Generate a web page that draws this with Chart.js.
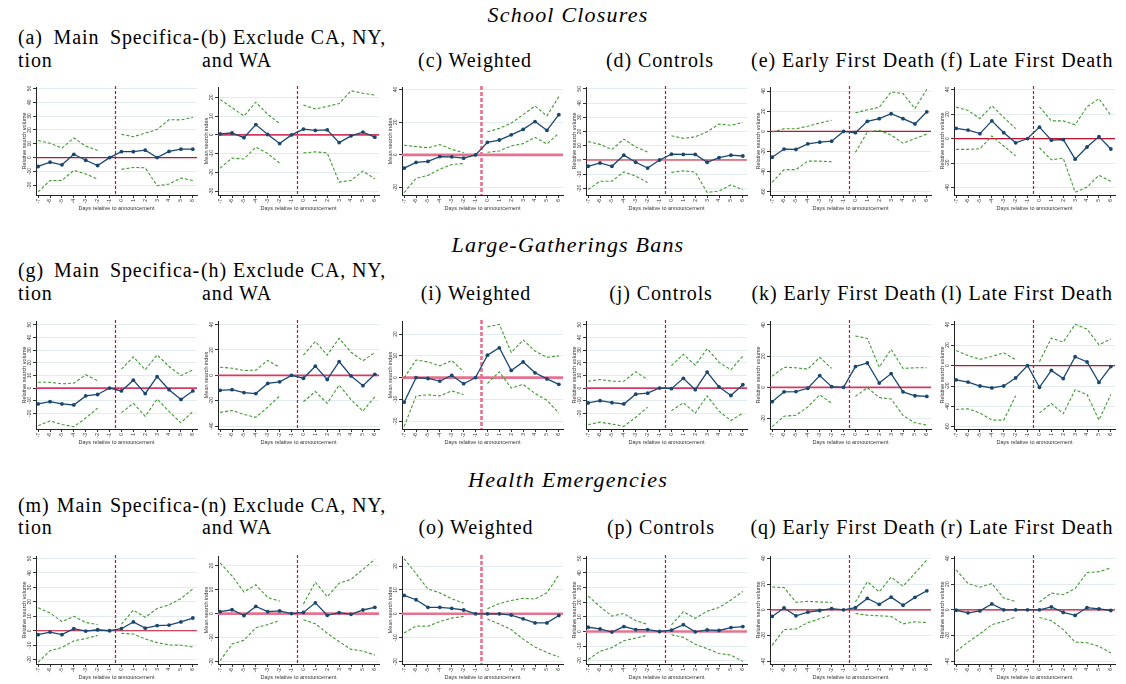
<!DOCTYPE html>
<html>
<head>
<meta charset="utf-8">
<script src="https://cdn.jsdelivr.net/npm/chart.js@4.4.0/dist/chart.umd.min.js"></script>
<style>
  body { margin: 0; background: #fff; width: 1126px; height: 684px; position: relative; overflow: hidden; font-family: "Liberation Serif", "DejaVu Serif", serif; }
  .t { position: absolute; white-space: nowrap; font-size: 20px; letter-spacing: 0.9px; line-height: 22px; color: #000; }
  .sec { font-style: italic; font-size: 22px; letter-spacing: 1.2px; }
  .c { transform: translateX(-50%); }
  .j { text-align: justify; text-align-last: justify; white-space: normal; }
  canvas { position: absolute; }
</style>
</head>
<body>
<!-- section titles and sub-captions -->
<div class="t sec c" style="left:568px;top:4px">School Closures</div>
<div class="t j" style="left:18px;top:26px;width:182px">(a) Main Specifica-</div>
<div class="t" style="left:201px;top:26px">(b) Exclude CA, NY,</div>
<div class="t" style="left:18px;top:49px">tion</div>
<div class="t" style="left:202px;top:49px">and WA</div>
<div class="t c" style="left:475px;top:49px">(c) Weighted</div>
<div class="t c" style="left:660px;top:49px">(d) Controls</div>
<div class="t c" style="left:843px;top:49px">(e) Early First Death</div>
<div class="t c" style="left:1027px;top:49px">(f) Late First Death</div>

<div class="t sec c" style="left:568px;top:234px">Large-Gatherings Bans</div>
<div class="t j" style="left:18px;top:259px;width:182px">(g) Main Specifica-</div>
<div class="t" style="left:201px;top:259px">(h) Exclude CA, NY,</div>
<div class="t" style="left:18px;top:282px">tion</div>
<div class="t" style="left:202px;top:282px">and WA</div>
<div class="t c" style="left:476px;top:282px">(i) Weighted</div>
<div class="t c" style="left:661px;top:282px">(j) Controls</div>
<div class="t c" style="left:844px;top:282px">(k) Early First Death</div>
<div class="t c" style="left:1027px;top:282px">(l) Late First Death</div>

<div class="t sec c" style="left:568px;top:469px">Health Emergencies</div>
<div class="t j" style="left:18px;top:494px;width:182px">(m) Main Specifica-</div>
<div class="t" style="left:201px;top:494px">(n) Exclude CA, NY,</div>
<div class="t" style="left:18px;top:516px">tion</div>
<div class="t" style="left:202px;top:516px">and WA</div>
<div class="t c" style="left:476px;top:516px">(o) Weighted</div>
<div class="t c" style="left:661px;top:516px">(p) Controls</div>
<div class="t c" style="left:843px;top:516px">(q) Early First Death</div>
<div class="t c" style="left:1027px;top:516px">(r) Late First Death</div>

<script>
// days relative to announcement (x axis)
const DAYS = [-7, -6, -5, -4, -3, -2, -1, 0, 1, 2, 3, 4, 5, 6];

const RSV = 'Relative search volume';
const MSI = 'Mean search index';

// ---- School closures ----
const aCoef = [-6.4, -3.3, -5.2, 2.4, -1.9, -5.7, 0, 4.3, 4.3, 5.4, 0, 4.5, 6.1, 6.1];
const aHi = [12.3, 10.4, 6.9, 14.2, 8.3, 5.2, null, 16.8, 15.1, 17.7, 20.3, 27.4, 27.2, 29.1];
const aLo = [-24.8, -16.5, -16.5, -9.2, -11.8, -15.6, null, -8.5, -7.1, -7.3, -20.3, -19.1, -14.7, -16.5];

const bCoef = [0.5, 1.0, -1.5, 5.5, 0.2, -4.6, 0, 3.1, 2.4, 2.7, -4.1, -0.5, 1.5, -1.2];
const bHi = [18.8, 14.5, 10.1, 17.4, 10.9, 6.1, null, 15.9, 13.8, 15.2, 16.7, 23.5, 22.2, 21.2];
const bLo = [-17.7, -12.3, -12.8, -6.5, -9.9, -15.0, null, -9.6, -9.0, -9.6, -25.1, -24.2, -19.3, -23.4];

const cCoef = [-8.1, -4.6, -4.0, -1.0, -1.2, -2.0, 0, 7.7, 9.1, 12.3, 15.6, 20.4, 15.0, 24.6];
const cHi = [5.9, 5.1, 4.4, 6.3, 3.4, 1.4, null, 14.1, 16.2, 19.4, 24.6, 29.9, 23.8, 35.6];
const cLo = [-23.0, -14.3, -12.5, -8.7, -5.9, -5.3, null, 1.6, 2.4, 5.5, 6.9, 10.7, 6.7, 13.3];

const dCoef = [-4.4, -2.1, -4.4, 3.4, -1.6, -5.7, 0, 4.1, 3.9, 3.9, -1.6, 1.6, 3.4, 2.8];
const dHi = [12.9, 11.0, 7.4, 14.7, 9.2, 5.5, null, 17.0, 15.2, 16.3, 19.8, 25.3, 24.4, 26.4];
const dLo = [-20.7, -14.9, -14.9, -8.3, -11.3, -15.9, null, -8.7, -7.6, -8.5, -22.8, -21.8, -17.5, -20.9];

const eCoef = [-25.6, -17.5, -17.8, -12.3, -10.7, -9.7, 0, -1.3, 10.0, 12.6, 17.5, 12.6, 7.4, 19.4];
const eHi = [-0.6, 2.6, 2.6, 5.2, 8.4, 11.0, null, 18.4, 21.4, 23.9, 39.2, 37.5, 22.7, 41.7];
const eLo = [-50.5, -37.9, -37.9, -29.4, -29.4, -30.1, null, -20.7, -0.6, 1.0, -3.6, -11.7, -7.1, -2.6];

const fCoef = [8.3, 6.9, 4.0, 14.4, 4.8, -3.5, 0, 9.3, -1.3, -0.8, -16.8, -6.9, 1.6, -8.5];
const fHi = [25.6, 22.9, 16.3, 26.7, 17.3, 8.0, null, 25.9, 14.4, 14.4, 11.2, 25.9, 32.5, 18.9];
const fLo = [-8.8, -8.8, -8.3, 2.1, -6.1, -14.1, null, -7.5, -17.3, -16.0, -43.7, -39.5, -29.9, -34.9];

// ---- Large-gatherings bans ----
const gCoef = [-12.6, -10.8, -12.6, -13.4, -6.2, -5.1, 0, -2.3, 6.2, -4.4, 9.0, -1.3, -9.0, -2.3];
const gHi = [4.6, 4.6, 3.3, 3.9, 10.5, 5.7, null, 14.9, 24.7, 14.4, 26.2, 17.0, 9.8, 14.4];
const gLo = [-29.8, -26.0, -28.8, -30.6, -23.7, -15.9, null, -19.5, -12.1, -22.4, -8.7, -18.5, -27.5, -18.5];

const hCoef = [-11.8, -11.3, -13.6, -14.4, -6.4, -5.1, 0, -2.3, 7.2, -3.3, 10.8, -0.5, -8.2, 0.8];
const hHi = [6.4, 5.6, 3.8, 4.1, 11.8, 6.4, null, 15.9, 26.7, 15.9, 29.2, 18.2, 11.5, 17.9];
const hLo = [-29.2, -27.7, -30.8, -33.1, -25.1, -16.2, null, -20.8, -12.8, -22.1, -7.7, -19.2, -28.2, -16.9];

const iCoef = [-11.3, 0, -0.4, -1.6, 1.0, -2.8, 0, 10.3, 13.7, 3.3, 7.2, 2.2, -0.6, -3.1];
const iHi = [-0.1, 8.1, 7.2, 5.4, 7.9, 2.7, null, 23.3, 24.5, 11.5, 17.3, 12.2, 9.3, 10.0];
const iLo = [-22.5, -8.4, -7.9, -8.4, -6.1, -7.8, null, -2.7, 2.7, -4.8, -3.1, -7.3, -10.4, -16.3];

const jCoef = [-11.8, -10.0, -11.6, -12.6, -4.9, -4.1, 0, -0.5, 7.7, -1.3, 12.6, 0.8, -5.9, 2.6];
const jHi = [5.4, 6.7, 5.4, 5.4, 12.9, 6.7, null, 17.7, 26.7, 18.0, 31.1, 20.3, 14.4, 25.2];
const jLo = [-29.0, -27.0, -28.5, -30.3, -23.1, -15.2, null, -18.0, -11.6, -19.8, -6.2, -18.3, -25.7, -19.8];

const kCoef = [-9.2, -2.9, -2.7, -0.6, 7.5, 0.4, 0, 13.3, 15.6, 2.7, 8.8, -2.9, -5.4, -5.8];
const kHi = [7.1, 12.9, 12.5, 11.7, 19.2, 12.1, null, 32.9, 31.3, 12.9, 24.4, 12.1, 12.5, 12.5];
const kLo = [-25.2, -18.5, -17.9, -12.5, -4.8, -10.2, null, -5.8, -0.2, -6.5, -7.5, -18.1, -22.7, -24.2];

const lCoef = [-14.0, -16.2, -20.0, -21.9, -20.0, -12.1, 0, -21.3, -4.8, -12.7, 8.6, 3.5, -16.5, -1.0];
const lHi = [14.6, 9.8, 6.0, 8.9, 12.4, 5.7, null, 3.8, 26.7, 22.9, 40.3, 35.6, 20.3, 26.0];
const lLo = [-42.9, -42.2, -46.3, -53.3, -53.3, -29.5, null, -46.3, -37.1, -47.0, -23.8, -28.3, -53.3, -28.3];

// ---- Health emergencies ----
const mCoef = [-2.7, -0.9, -2.7, 1.4, -0.2, 0.7, 0, 1.4, 6.1, 1.8, 3.6, 3.9, 6.1, 8.8];
const mHi = [15.9, 12.3, 6.3, 10.0, 5.7, 4.3, null, 4.5, 14.3, 9.3, 15.4, 17.9, 22.2, 29.0];
const mLo = [-21.8, -13.8, -11.6, -7.0, -5.4, -3.2, null, -1.8, -2.3, -5.7, -8.2, -9.8, -10.0, -11.3];

const nCoef = [0.8, 1.6, -0.8, 3.0, 0.8, 1.1, 0, 0.5, 4.5, -0.7, 0.4, -0.3, 1.5, 2.6];
const nHi = [21.1, 15.7, 9.0, 12.0, 6.7, 5.2, null, 4.0, 13.1, 7.0, 12.7, 14.3, 18.4, 22.6];
const nLo = [-19.6, -12.7, -11.1, -5.9, -4.6, -2.9, null, -2.6, -4.2, -8.2, -11.7, -14.9, -15.6, -17.3];

const oCoef = [7.7, 5.9, 2.7, 2.7, 2.3, 1.6, 0, 0, 0, -0.5, -2.1, -3.8, -3.8, -0.7];
const oHi = [23.1, 16.8, 10.4, 8.8, 6.3, 4.5, null, 2.1, 4.3, 5.6, 6.5, 6.2, 8.8, 16.3];
const oLo = [-8.0, -5.1, -5.2, -3.2, -1.8, -1.1, null, -2.2, -4.3, -6.6, -10.6, -13.9, -16.2, -18.0];

const pCoef = [2.9, 1.8, -0.4, 3.4, 1.3, 1.3, 0, 0.9, 4.7, -0.2, 1.1, 0.7, 2.7, 3.4];
const pHi = [24.2, 17.0, 10.5, 12.3, 7.4, 4.9, null, 4.5, 13.5, 9.0, 13.9, 16.4, 21.5, 27.4];
const pLo = [-19.1, -13.5, -11.0, -6.3, -4.5, -2.5, null, -2.2, -4.0, -8.7, -11.7, -15.0, -16.1, -20.4];

const qCoef = [-5.1, 1.5, -4.6, -1.8, -0.5, 1.0, 0, 1.8, 8.9, 4.3, 9.9, 3.6, 9.7, 14.8];
const qHi = [17.8, 17.3, 5.9, 6.6, 6.1, 5.9, null, 6.1, 21.9, 14.0, 25.4, 18.3, 28.5, 38.7];
const qLo = [-27.5, -15.3, -14.8, -9.9, -6.9, -3.8, null, -2.8, -4.1, -4.6, -5.1, -10.9, -9.2, -9.9];

const rCoef = [-0.3, -2.3, -0.8, 4.6, 0, 0, 0, 0, 2.3, -2.0, -4.3, 1.8, 0.8, -0.5];
const rHi = [31.1, 20.4, 17.6, 20.4, 9.2, 6.4, null, 6.1, 13.0, 11.7, 16.6, 29.0, 29.6, 32.6];
const rLo = [-32.1, -25.0, -18.6, -11.5, -8.9, -5.6, null, -5.9, -8.4, -15.3, -25.0, -25.5, -28.3, -33.4];

// y tick sets
const T10_50 = [-20, -10, 0, 10, 20, 30, 40, 50];
const T20_40 = [-20, 0, 20, 40];
const T60_40 = [-60, -40, -20, 0, 20, 40];
const T40_40 = [-40, -20, 0, 20, 40];
const T20_20 = [-20, -10, 0, 10, 20];
const T30_20 = [-30, -20, -10, 0, 10, 20];

// panel setup, row by row
const panels = [
  { coef: aCoef, hi: aHi, lo: aLo, title: RSV, ticks: T10_50, min: -27, max: 51, zero: 'thin', vl: 'thin' },
  { coef: bCoef, hi: bHi, lo: bLo, title: MSI, ticks: T30_20, min: -32, max: 25.5, zero: 'mid', vl: 'thin' },
  { coef: cCoef, hi: cHi, lo: cLo, title: MSI, ticks: T20_40, min: -24.5, max: 41.5, zero: 'thick', vl: 'thick' },
  { coef: dCoef, hi: dHi, lo: dLo, title: RSV, ticks: T10_50, min: -24.6, max: 51.3, zero: 'thin', vl: 'thin' },
  { coef: eCoef, hi: eHi, lo: eLo, title: RSV, ticks: T60_40, min: -63, max: 44, zero: 'thin', vl: 'thin' },
  { coef: fCoef, hi: fHi, lo: fLo, title: RSV, ticks: T40_40, min: -46, max: 42, zero: 'thin', vl: 'thin' },

  { coef: gCoef, hi: gHi, lo: gLo, title: RSV, ticks: T10_50, min: -32.4, max: 53, zero: 'mid', vl: 'thin' },
  { coef: hCoef, hi: hHi, lo: hLo, title: MSI, ticks: T40_40, min: -42.3, max: 42.8, zero: 'mid', vl: 'thin' },
  { coef: iCoef, hi: iHi, lo: iLo, title: MSI, ticks: T20_20, min: -23.6, max: 26, zero: 'thick', vl: 'thick' },
  { coef: jCoef, hi: jHi, lo: jLo, title: RSV, ticks: T10_50, min: -32.4, max: 53, zero: 'mid', vl: 'thin' },
  { coef: kCoef, hi: kHi, lo: kLo, title: RSV, ticks: T20_40, min: -26.7, max: 42.5, zero: 'mid', vl: 'thin' },
  { coef: lCoef, hi: lHi, lo: lLo, title: RSV, ticks: T60_40, min: -62, max: 43.5, zero: 'thin', vl: 'thin' },

  { coef: mCoef, hi: mHi, lo: mLo, title: RSV, ticks: T10_50, min: -23, max: 51.7, zero: 'thin', vl: 'thin' },
  { coef: nCoef, hi: nHi, lo: nLo, title: MSI, ticks: T20_20, min: -21, max: 24, zero: 'thick', vl: 'thin' },
  { coef: oCoef, hi: oHi, lo: oLo, title: MSI, ticks: T20_20, min: -21, max: 24.2, zero: 'thick', vl: 'thick' },
  { coef: pCoef, hi: pHi, lo: pLo, title: RSV, ticks: T10_50, min: -22.2, max: 51.6, zero: 'thick', vl: 'thin' },
  { coef: qCoef, hi: qHi, lo: qLo, title: RSV, ticks: T40_40, min: -42, max: 41.8, zero: 'thin', vl: 'thin' },
  { coef: rCoef, hi: rHi, lo: rLo, title: RSV, ticks: T40_40, min: -42, max: 41.8, zero: 'thin', vl: 'thin' }
];

// layout (pixels)
const AXIS_X = [36, 218, 402, 586, 770, 954];
const PLOT_TOP = [85, 319, 554];
const PLOT_H = 110;
const Y_W = 15, X_H = 18, PAD_T = 2;

const NAVY = '#1a476f';
const GREEN = '#3f9b2f';
const LINE_STYLES = {
  thin: { color: '#c8102e', width: 1.2 },
  mid: { color: '#d63a62', width: 1.8 },
  thick: { color: '#e5738f', width: 2.6 }
};
const TICK_FONT = '"Liberation Sans", Arial, sans-serif';

// zero line, dashed announcement line, rotated y labels
const refLines = {
  id: 'refLines',
  beforeDatasetsDraw(chart, args, opts) {
    const { ctx, chartArea: a, scales: { x, y } } = chart;
    const z = LINE_STYLES[opts.zero], v = LINE_STYLES[opts.vl];
    ctx.save();
    const y0 = y.getPixelForValue(0);
    ctx.strokeStyle = z.color;
    ctx.lineWidth = z.width;
    ctx.beginPath(); ctx.moveTo(a.left, y0); ctx.lineTo(a.right, y0); ctx.stroke();
    const xv = x.getPixelForValue(-0.5);
    ctx.setLineDash(opts.vl === 'thick' ? [4, 2] : [3, 2]);
    ctx.strokeStyle = v.color;
    ctx.lineWidth = v.width;
    ctx.beginPath(); ctx.moveTo(xv, a.top - 1); ctx.lineTo(xv, a.bottom); ctx.stroke();
    ctx.restore();
  },
  afterDraw(chart) {
    const { ctx, scales: { y } } = chart;
    ctx.save();
    ctx.font = '5px ' + TICK_FONT;
    ctx.fillStyle = '#333';
    ctx.textAlign = 'center';
    ctx.textBaseline = 'bottom';
    y.ticks.forEach(t => {
      const py = y.getPixelForValue(t.value);
      ctx.save();
      ctx.translate(y.right - 4, py);
      ctx.rotate(-Math.PI / 2);
      ctx.fillText(String(t.value), 0, 0);
      ctx.restore();
    });
    ctx.restore();
  }
};

const pts = arr => DAYS.map((d, i) => ({ x: d, y: arr[i] }));

panels.forEach((p, i) => {
  const col = i % 6, row = Math.floor(i / 6);
  const cv = document.createElement('canvas');
  const w = 180, h = PAD_T + PLOT_H + X_H;
  cv.width = w; cv.height = h;
  cv.style.left = (AXIS_X[col] - Y_W) + 'px';
  cv.style.top = (PLOT_TOP[row] - PAD_T) + 'px';
  cv.style.width = w + 'px'; cv.style.height = h + 'px';
  document.body.appendChild(cv);

  const ciStyle = { borderColor: GREEN, borderDash: [3, 2], borderWidth: 1.1, pointRadius: 0, spanGaps: false, fill: false };

  new Chart(cv, {
    type: 'line',
    data: {
      datasets: [
        Object.assign({ data: pts(p.hi) }, ciStyle),
        Object.assign({ data: pts(p.lo) }, ciStyle),
        {
          data: pts(p.coef),
          borderColor: NAVY, backgroundColor: NAVY, borderWidth: 1.3,
          pointRadius: 1.9, pointBackgroundColor: NAVY, pointBorderWidth: 0
        }
      ]
    },
    options: {
      responsive: false,
      animation: false,
      events: [],
      layout: { padding: { top: PAD_T, right: 2, left: 0, bottom: 0 } },
      elements: { line: { tension: 0 } },
      plugins: {
        legend: { display: false },
        tooltip: { enabled: false },
        refLines: { zero: p.zero, vl: p.vl }
      },
      scales: {
        x: {
          type: 'linear', min: -7.18, max: 6.35,
          afterBuildTicks: s => { s.ticks = DAYS.map(v => ({ value: v })); },
          ticks: { minRotation: 90, maxRotation: 90, autoSkip: false, font: { size: 5, family: TICK_FONT }, color: '#333', padding: 1 },
          grid: { drawOnChartArea: false, tickColor: '#333', tickLength: 3 },
          border: { color: '#222', width: 1 },
          title: { display: true, text: 'Days relative to announcement', font: { size: 5.5, family: TICK_FONT }, color: '#333', padding: { top: 0, bottom: 1 } },
          afterFit: s => { s.height = X_H; }
        },
        y: {
          min: p.min, max: p.max,
          afterBuildTicks: s => { s.ticks = p.ticks.map(v => ({ value: v })); },
          ticks: { display: false },
          grid: { color: '#e2ecef', tickColor: '#333', tickLength: 3 },
          border: { color: '#222', width: 1 },
          title: { display: true, text: p.title, font: { size: 5.5, family: TICK_FONT }, color: '#333', padding: 0 },
          afterFit: s => { s.width = Y_W; }
        }
      }
    },
    plugins: [refLines]
  });
});
</script>
</body>
</html>
